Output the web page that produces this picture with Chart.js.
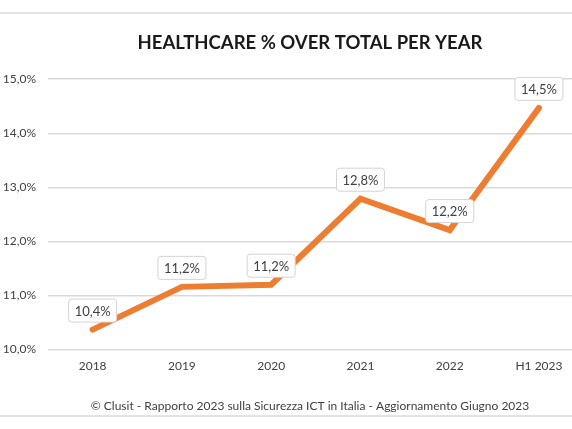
<!DOCTYPE html>
<html>
<head>
<meta charset="utf-8">
<script src="https://cdn.jsdelivr.net/npm/chart.js@4"></script>
<style>
  html, body { margin: 0; padding: 0; background: #fff; }
  #wrap { width: 572px; height: 429px; }
</style>
</head>
<body>
<div id="wrap"><canvas id="chart-1"></canvas></div>
<script>
var years = ['2018', '2019', '2020', '2021', '2022', 'H1 2023'];
var sharePct = [10.37, 11.16, 11.2, 12.79, 12.21, 14.47];
var shareLabels = ['10,4%', '11,2%', '11,2%', '12,8%', '12,2%', '14,5%'];
var yTicks = [10, 11, 12, 13, 14, 15];

var fontFamily = 'Lato, "Open Sans", sans-serif';

// cornice grigia sopra e sotto, come nell'immagine originale
var frameLines = {
    id: 'frameLines',
    beforeDraw: function (chart) {
        var ctx = chart.ctx;
        ctx.save();
        ctx.strokeStyle = '#e3e3e3';
        ctx.lineWidth = 2;
        ctx.beginPath();
        ctx.moveTo(0, 13); ctx.lineTo(chart.width, 13);
        ctx.moveTo(0, 416); ctx.lineTo(chart.width, 416);
        ctx.stroke();
        ctx.restore();
    }
};

// etichette con riquadro bianco sopra ogni punto
var boxLabels = {
    id: 'boxLabels',
    afterDatasetsDraw: function (chart) {
        var ctx = chart.ctx;
        var meta = chart.getDatasetMeta(0);
        ctx.save();
        ctx.font = '13px ' + fontFamily;
        ctx.textAlign = 'center';
        ctx.textBaseline = 'middle';
        meta.data.forEach(function (pt, i) {
            var text = shareLabels[i];
            var w = ctx.measureText(text).width + 12;
            var h = 23;
            var cx = pt.x, cy = pt.y - 19;
            ctx.beginPath();
            ctx.roundRect(cx - w / 2, cy - h / 2, w, h, 3);
            ctx.fillStyle = '#ffffff';
            ctx.fill();
            ctx.strokeStyle = '#d4d4d4';
            ctx.lineWidth = 1;
            ctx.stroke();
            ctx.fillStyle = '#404040';
            ctx.fillText(text, cx, cy + 1);
        });
        ctx.restore();
    }
};

var ctx1 = document.getElementById('chart-1').getContext('2d');
var chart = new Chart(ctx1, {
    type: 'line',
    data: {
        datasets: [{
            label: 'Healthcare',
            data: sharePct.map(function (v, i) { return { x: i, y: v }; }),
            borderColor: '#ED7D31',
            backgroundColor: '#ED7D31',
            borderWidth: 6,
            borderCapStyle: 'round',
            borderJoinStyle: 'miter',
            pointRadius: 0,
            tension: 0
        }]
    },
    plugins: [frameLines, boxLabels],
    options: {
        responsive: true,
        maintainAspectRatio: false,
        animation: false,
        layout: { padding: 0 },
        scales: {
            x: {
                type: 'linear',
                min: -0.5,
                max: 5.37,
                afterBuildTicks: function (scale) {
                    scale.ticks = years.map(function (_, i) { return { value: i }; });
                },
                afterFit: function (scale) { scale.height = 24; },
                grid: { display: false, drawTicks: false },
                border: { display: false },
                ticks: {
                    autoSkip: false,
                    maxRotation: 0,
                    padding: 9,
                    color: '#404040',
                    font: { family: fontFamily, size: 12 },
                    callback: function (value) { return years[value]; }
                }
            },
            y: {
                min: 10,
                max: 15,
                afterBuildTicks: function (scale) {
                    scale.ticks = yTicks.map(function (v) { return { value: v }; });
                },
                afterFit: function (scale) { scale.width = 48; },
                grid: { color: '#d9d9d9', lineWidth: 1.5, drawTicks: false },
                border: { display: false },
                ticks: {
                    padding: 12,
                    color: '#404040',
                    font: { family: fontFamily, size: 12 },
                    callback: function (value) {
                        return value.toFixed(1).replace('.', ',') + '%';
                    }
                }
            }
        },
        plugins: {
            legend: { display: false },
            tooltip: { enabled: false },
            title: {
                display: true,
                fullSize: false,
                text: 'HEALTHCARE % OVER TOTAL PER YEAR',
                color: '#1a1a1a',
                font: { family: fontFamily, size: 18.5, weight: 'bold' },
                padding: { top: 32, bottom: 25 }
            },
            subtitle: {
                display: true,
                position: 'bottom',
                fullSize: false,
                text: '\u00A9 Clusit - Rapporto 2023 sulla Sicurezza ICT in Italia - Aggiornamento Giugno 2023',
                color: '#404040',
                font: { family: fontFamily, size: 12 },
                padding: { top: 25, bottom: 16 }
            }
        }
    }
});
</script>
</body>
</html>
